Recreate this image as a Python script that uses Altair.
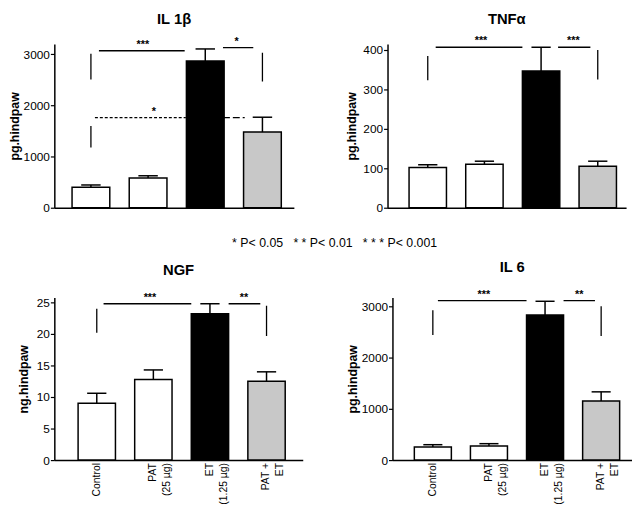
import altair as alt
import pandas as pd

FONT = "Liberation Sans"

positions = [0, 1, 2, 3]
categories = ["Control", "PAT\n(25 µg)", "ET\n(1.25 µg)", "PAT +\nET"]
bar_fills = ["#ffffff", "#ffffff", "#000000", "#c8c8c8"]

# means and upper error (SEM)
il1b_mean = [400, 580, 2870, 1480]
il1b_sem = [45, 45, 235, 290]
tnf_mean = [102, 110, 347, 105]
tnf_sem = [7, 8, 60, 13]
ngf_mean = [9.0, 12.8, 23.2, 12.5]
ngf_sem = [1.6, 1.5, 1.6, 1.5]
il6_mean = [255, 275, 2830, 1150]
il6_sem = [45, 45, 265, 180]

# significance bracket segments: x, x2, y, y2, style
il1b_seg_x = [0.14, 0.0, 2.31, 3.0, 0.07, 2.31, 0.0]
il1b_seg_x2 = [1.64, 0.0, 2.84, 3.0, 1.66, 2.69, 0.0]
il1b_seg_y = [3070, 2510, 3130, 2470, 1760, 1760, 1180]
il1b_seg_y2 = [3070, 3010, 3130, 3030, 1760, 1760, 1600]
il1b_seg_style = ["solid", "solid", "solid", "solid", "dot", "dash", "solid"]
il1b_star_x = [0.91, 2.55, 1.10]
il1b_star_y = [3070, 3130, 1760]
il1b_star_text = ["***", "*", "*"]

tnf_seg_x = [0.14, 0.0, 2.30, 3.0]
tnf_seg_x2 = [1.67, 0.0, 2.87, 3.0]
tnf_seg_y = [407, 323, 407, 325]
tnf_seg_y2 = [407, 385, 407, 400]
tnf_seg_style = ["solid"] * 4
tnf_star_x = [0.94, 2.57]
tnf_star_y = [407, 407]
tnf_star_text = ["***", "***"]

ngf_seg_x = [0.12, 0.0, 2.33, 3.0]
ngf_seg_x2 = [1.67, 0.0, 2.89, 3.0]
ngf_seg_y = [24.8, 20.2, 24.8, 19.7]
ngf_seg_y2 = [24.8, 24.0, 24.8, 24.5]
ngf_seg_style = ["solid"] * 4
ngf_star_x = [0.94, 2.6]
ngf_star_y = [24.8, 24.8]
ngf_star_text = ["***", "**"]

il6_seg_x = [0.09, 0.0, 2.33, 3.0]
il6_seg_x2 = [1.67, 0.0, 2.89, 3.0]
il6_seg_y = [3110, 2440, 3110, 2420]
il6_seg_y2 = [3110, 2920, 3110, 3000]
il6_seg_style = ["solid"] * 4
il6_star_x = [0.91, 2.61]
il6_star_y = [3110, 3110]
il6_star_text = ["***", "**"]

NB = "\u00a0"
legend_text = ("* P< 0.05" + NB * 3 + "* * P< 0.01" + NB * 3 + "* * * P< 0.001")


def panel(title, ytitle, means, sems, ydomain, yticks, xdomain, width, height,
          sx, sx2, sy, sy2, sstyle, tx, ty, ttext, show_labels, title_pad, head_off):
    bars = pd.DataFrame({
        "pos": positions,
        "cat": categories,
        "mean": means,
        "top": [m + s for m, s in zip(means, sems)],
        "fill": bar_fills,
    })
    bars["x0"] = bars["pos"] - 0.33
    bars["x1"] = bars["pos"] + 0.33
    bars["c0"] = bars["pos"] - 0.17
    bars["c1"] = bars["pos"] + 0.17
    bars["zero"] = 0.0

    segs = pd.DataFrame({"x": sx, "x2": sx2, "y": sy, "y2": sy2, "style": sstyle})
    stars = pd.DataFrame({"x": tx, "y": ty, "t": ttext})

    xscale = alt.Scale(domain=xdomain, nice=False, zero=False)
    yscale = alt.Scale(domain=ydomain, nice=False, zero=True)
    xaxis = alt.Axis(labels=False, ticks=False, title=None, grid=False,
                     domainColor="black", domainWidth=1.5)
    yaxis = alt.Axis(values=yticks, format="d", title=ytitle, grid=False,
                     domainColor="black", domainWidth=1.5, tickColor="black",
                     tickWidth=1.2, tickSize=4, labelPadding=1, labelFontSize=12,
                     labelFont=FONT, labelColor="black", titleFont=FONT,
                     titleFontSize=12.5, titleFontWeight="bold", titleColor="black",
                     titlePadding=title_pad)

    base = alt.Chart(bars)
    rect = base.mark_rect(stroke="black", strokeWidth=1.5).encode(
        x=alt.X("x0:Q", scale=xscale, axis=xaxis),
        x2="x1",
        y=alt.Y("mean:Q", scale=yscale, axis=yaxis),
        y2="zero",
        fill=alt.Fill("fill:N", scale=None),
    )
    err = base.mark_rule(color="black", strokeWidth=1.5).encode(
        x=alt.X("pos:Q", scale=xscale, axis=xaxis),
        y=alt.Y("mean:Q", scale=yscale, axis=yaxis),
        y2="top",
    )
    cap = base.mark_rule(color="black", strokeWidth=1.5).encode(
        x=alt.X("c0:Q", scale=xscale, axis=xaxis),
        x2="c1",
        y=alt.Y("top:Q", scale=yscale, axis=yaxis),
    )
    lines = alt.Chart(segs).mark_rule(color="black", strokeWidth=1.3).encode(
        x=alt.X("x:Q", scale=xscale, axis=xaxis),
        x2="x2",
        y=alt.Y("y:Q", scale=yscale, axis=yaxis),
        y2="y2",
        strokeDash=alt.StrokeDash(
            "style:N",
            scale=alt.Scale(domain=["solid", "dot", "dash"],
                            range=[[1, 0], [3, 2], [7, 3]]),
            legend=None,
        ),
    )
    stext = alt.Chart(stars).mark_text(
        font=FONT, fontSize=11, fontWeight="bold", baseline="bottom", dy=-1, color="black"
    ).encode(
        x=alt.X("x:Q", scale=xscale, axis=xaxis),
        y=alt.Y("y:Q", scale=yscale, axis=yaxis),
        text="t:N",
    )
    layers = [rect, err, cap, lines, stext]
    if show_labels:
        labels = base.mark_text(
            font=FONT, fontSize=10.5, angle=270, align="right", baseline="middle",
            lineBreak="\n", lineHeight=14, color="black"
        ).encode(
            x=alt.X("pos:Q", scale=xscale, axis=xaxis),
            y=alt.value(height + 3),
            text="cat:N",
        )
        layers.append(labels)
    return alt.layer(*layers).properties(
        width=width, height=height,
        title=alt.TitleParams(title, font=FONT, fontSize=15, fontWeight="bold",
                              color="black", anchor="middle", frame="group",
                              offset=head_off),
    )


p1 = panel("IL 1β", "pg.hindpaw", il1b_mean, il1b_sem, [0, 3200], [0, 1000, 2000, 3000],
           [-0.64, 3.55], 243, 166, il1b_seg_x, il1b_seg_x2, il1b_seg_y, il1b_seg_y2,
           il1b_seg_style, il1b_star_x, il1b_star_y, il1b_star_text, False, 2, 9)
p2 = panel("TNFα", "pg.hindpaw", tnf_mean, tnf_sem, [0, 415], [0, 100, 200, 300, 400],
           [-0.71, 3.5], 242, 166, tnf_seg_x, tnf_seg_x2, tnf_seg_y, tnf_seg_y2,
           tnf_seg_style, tnf_star_x, tnf_star_y, tnf_star_text, False, 4, 9)
p3 = panel("NGF", "ng.hindpaw", ngf_mean, ngf_sem, [0, 25.8], [0, 5, 10, 15, 20, 25],
           [-0.75, 3.64], 252, 165, ngf_seg_x, ngf_seg_x2, ngf_seg_y, ngf_seg_y2,
           ngf_seg_style, ngf_star_x, ngf_star_y, ngf_star_text, True, 6, 14)
p4 = panel("IL 6", "pg.hindpaw", il6_mean, il6_sem, [0, 3170], [0, 1000, 2000, 3000],
           [-0.72, 3.55], 243, 165, il6_seg_x, il6_seg_x2, il6_seg_y, il6_seg_y2,
           il6_seg_style, il6_star_x, il6_star_y, il6_star_text, True, 2, 14)

top = alt.hconcat(p1, p2, spacing=52)
bottom = alt.hconcat(p3, p4, spacing=44).properties(
    title=alt.TitleParams(legend_text, font=FONT, fontSize=12.5, fontWeight="normal",
                          color="black", anchor="middle", offset=11, dx=10)
)

chart = alt.concat(top, bottom, columns=1, align="none", spacing=23).properties(
    padding={"left": 0, "top": 0, "right": 0, "bottom": 0}
).configure(font=FONT).configure_view(stroke=None)

chart.save("out.html", embed_options={"renderer": "svg", "actions": False})
